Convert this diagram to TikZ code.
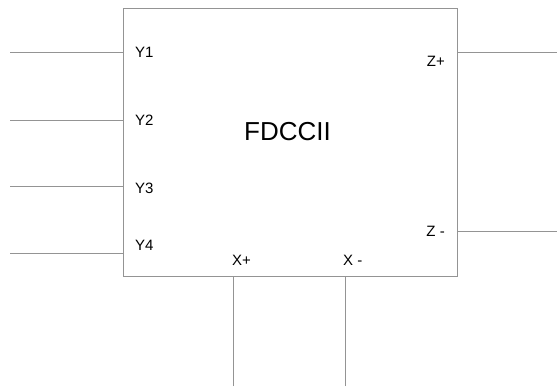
\documentclass[tikz,border=0pt]{standalone}
\usepackage{fontspec}
\setmainfont{Liberation Sans}
\begin{document}
\begin{tikzpicture}[x=1pt,y=-1pt,
  wire/.style={draw=black!42,line width=0.9pt},
  pin/.style={inner sep=0pt,font=\fontsize{15}{15}\selectfont},
  title/.style={inner sep=0pt,font=\fontsize{26}{26}\selectfont}]
\useasboundingbox (0,0) rectangle (557,388);
% the FDCCII block
\node[wire,draw,minimum width=334pt,minimum height=268pt,inner sep=0pt,anchor=north west] (blk) at (122.5,8) {};
\node[title] (name) at (287.5,131.5) {FDCCII};
% port labels
\node[pin,anchor=west] (ly1) at (135,52) {Y1};
\node[pin,anchor=west] (ly2) at (135,120) {Y2};
\node[pin,anchor=west] (ly3) at (135,188) {Y3};
\node[pin,anchor=west] (ly4) at (135,245) {Y4};
\node[pin,anchor=east] (lzp) at (445,61) {Z+};
\node[pin,anchor=east] (lzm) at (445,231) {Z -};
\node[pin,anchor=west] (lxp) at (232,260.5) {X+};
\node[pin,anchor=west] (lxm) at (343,260.5) {X -};
% free ends of the terminals
\coordinate (y1) at (10,52.7);
\coordinate (y2) at (10,120);
\coordinate (y3) at (10,186.7);
\coordinate (y4) at (10,253.3);
\coordinate (zp) at (557,52.5);
\coordinate (zm) at (557,231.5);
\coordinate (xp) at (233.3,386);
\coordinate (xm) at (345.3,386);
% terminals
\draw[wire] (y1) -- (y1 -| blk.west);
\draw[wire] (y2) -- (y2 -| blk.west);
\draw[wire] (y3) -- (y3 -| blk.west);
\draw[wire] (y4) -- (y4 -| blk.west);
\draw[wire] (zp) -- (zp -| blk.east);
\draw[wire] (zm) -- (zm -| blk.east);
\draw[wire] (xp) -- (xp |- blk.south);
\draw[wire] (xm) -- (xm |- blk.south);
\end{tikzpicture}
\end{document}
